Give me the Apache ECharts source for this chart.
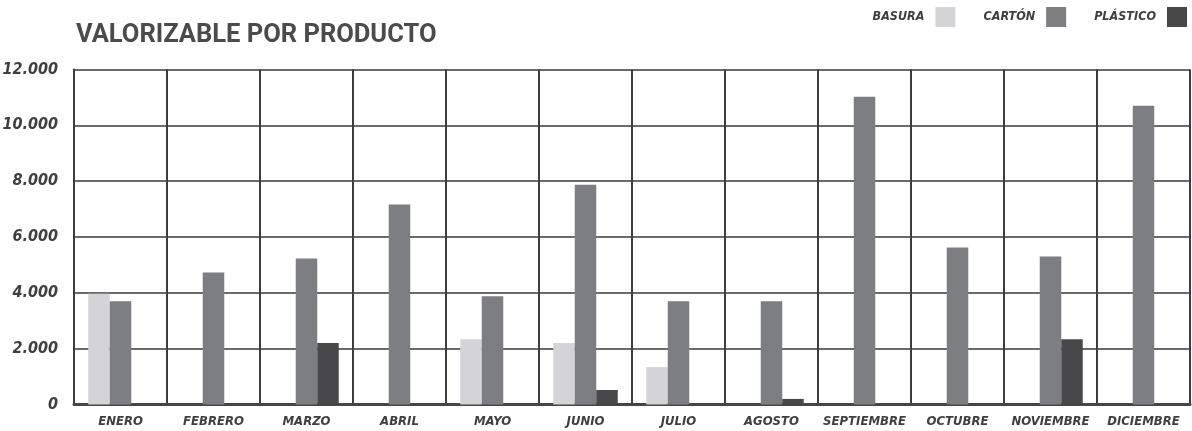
<!DOCTYPE html>
<html>
<head>
<meta charset="utf-8">
<script src="https://cdn.jsdelivr.net/npm/echarts@6/dist/echarts.min.js"></script>
<style>
  html, body { margin: 0; padding: 0; background: #fff; }
  #chart { width: 1192px; height: 431px; }
</style>
</head>
<body>
<div id="chart"></div>
<script>
// 数据
const months = ['ENERO', 'FEBRERO', 'MARZO', 'ABRIL', 'MAYO', 'JUNIO', 'JULIO', 'AGOSTO', 'SEPTIEMBRE', 'OCTUBRE', 'NOVIEMBRE', 'DICIEMBRE']
const basura = [3970, null, null, null, 2340, 2200, 1340, null, null, null, null, null]
const carton = [3700, 4730, 5230, 7160, 3880, 7870, 3700, 3700, 11020, 5620, 5300, 10700]
const plastico = [null, null, 2200, null, null, 520, null, 200, null, null, 2340, null]

const labelFont = "'Liberation Sans Narrow', 'DejaVu Sans Condensed', sans-serif"
const textColor = '#3f3f41'

const chart = echarts.init(document.getElementById('chart'))

function barSeries(name, data, color) {
  return {
    name,
    type: 'bar',
    data,
    barWidth: 21.5,
    barGap: '0%',
    itemStyle: { color },
    emphasis: { disabled: true },
  }
}

chart.setOption({
  animation: false,
  title: {
    text: 'VALORIZABLE POR PRODUCTO',
    left: 71,
    top: 18,
    textStyle: {
      fontFamily: 'Roboto, sans-serif',
      fontWeight: 'bold',
      fontSize: 25.5,
      color: '#4b4b4d',
    },
  },
  legend: {
    right: 0,
    top: 2,
    align: 'right',
    itemWidth: 20,
    itemHeight: 20,
    itemGap: 28,
    icon: 'rect',
    textStyle: {
      fontFamily: labelFont,
      fontWeight: 'bold',
      fontStyle: 'italic',
      fontSize: 12.5,
      color: textColor,
      padding: [0, 6, 0, 0],
    },
    data: ['BASURA', 'CARTÓN', 'PLÁSTICO'],
  },
  grid: {
    left: 74,
    right: 2,
    top: 69.5,
    bottom: 26.5,
    containLabel: false,
    outerBoundsMode: 'none',
  },
  xAxis: {
    type: 'category',
    data: months,
    axisTick: { show: false },
    axisLine: { lineStyle: { color: '#464648', width: 3 } },
    splitLine: { show: true, lineStyle: { color: '#3d3d3f', width: 2 } },
    axisLabel: {
      interval: 0,
      margin: 11,
      fontFamily: labelFont,
      fontWeight: 'bold',
      fontStyle: 'italic',
      fontSize: 13,
      color: textColor,
    },
  },
  yAxis: {
    type: 'value',
    min: 0,
    max: 12000,
    interval: 2000,
    axisLine: { show: true, lineStyle: { color: '#3d3d3f', width: 2 } },
    axisTick: { show: false },
    splitLine: { lineStyle: { color: '#3a3a3c', width: 1.5 } },
    axisLabel: {
      margin: 16,
      verticalAlign: 'middle',
      padding: [0, 0, 6, 0],
      fontFamily: labelFont,
      fontWeight: 'bold',
      fontStyle: 'italic',
      fontSize: 16,
      color: textColor,
      formatter: v => v === 0 ? '0' : v.toLocaleString('de-DE'),
    },
  },
  series: [
    barSeries('BASURA', basura, '#d4d4d8'),
    barSeries('CARTÓN', carton, '#7d7e82'),
    barSeries('PLÁSTICO', plastico, '#48484a'),
  ],
})
</script>
</body>
</html>
